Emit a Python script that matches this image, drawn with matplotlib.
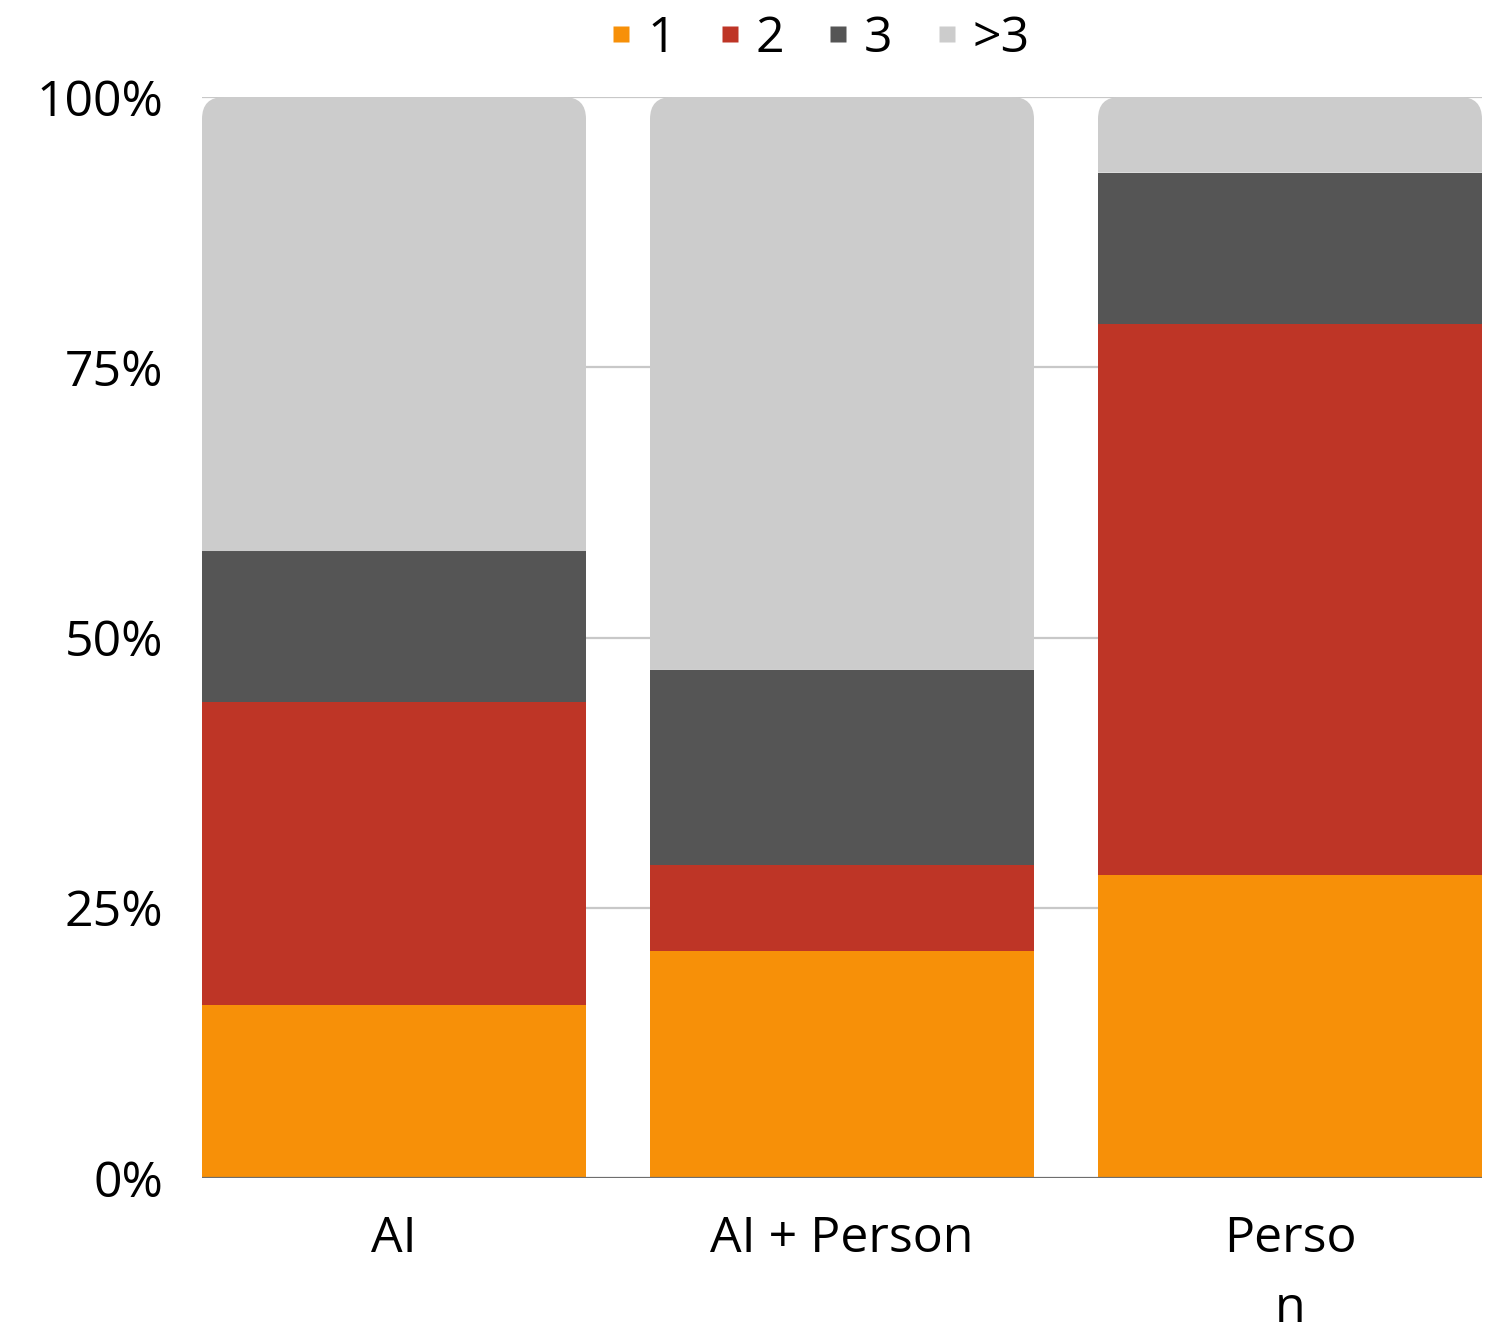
import matplotlib
matplotlib.use("Agg")
import matplotlib.pyplot as plt
from matplotlib.path import Path
from matplotlib.patches import PathPatch
from matplotlib.lines import Line2D
import numpy as np

plt.rcParams['font.family'] = ['Open Sans', 'DejaVu Sans']

categories = ["AI", "AI + Person", "Perso\nn"]
series_names = ["1", "2", "3", ">3"]
values = {
    "1":  [16, 21, 28],
    "2":  [28, 8, 51],
    "3":  [14, 18, 14],
    ">3": [42, 53, 7],
}
colors = {"1": "#F79008", "2": "#BE3526", "3": "#555555", ">3": "#CCCCCC"}
ytick_vals = [0, 25, 50, 75, 100]
ytick_labels = ["0%", "25%", "50%", "75%", "100%"]

W, H = 1499, 1325
fig = plt.figure(figsize=(W / 100, H / 100), dpi=100)
ax = fig.add_axes([202 / W, 1 - 1178 / H, (1482 - 202) / W, (1178 - 97) / H])

x = np.arange(len(categories))
bar_w = 384 / 448
ax.set_xlim(-0.5 * bar_w, len(categories) - 1 + 0.5 * bar_w)
ax.set_ylim(0, 100)

# corner radius for the rounded top segment, in data units
radius_px = 22
ax_w_px = 1482 - 202
ax_h_px = 1178 - 97
rx = radius_px * (ax.get_xlim()[1] - ax.get_xlim()[0]) / ax_w_px
ry = radius_px * (ax.get_ylim()[1] - ax.get_ylim()[0]) / ax_h_px


def rounded_top(x0, y0, w, h):
    x1, y1 = x0 + w, y0 + h
    verts = [
        (x0, y0), (x1, y0), (x1, y1 - ry),
        (x1, y1), (x1 - rx, y1),
        (x0 + rx, y1),
        (x0, y1), (x0, y1 - ry),
        (x0, y0),
    ]
    codes = [
        Path.MOVETO, Path.LINETO, Path.LINETO,
        Path.CURVE3, Path.CURVE3,
        Path.LINETO,
        Path.CURVE3, Path.CURVE3,
        Path.CLOSEPOLY,
    ]
    return Path(verts, codes)


bottom = np.zeros(len(categories))
for name in series_names:
    vals = np.array(values[name], dtype=float)
    if name == series_names[-1]:
        for xi, b, v in zip(x, bottom, vals):
            ax.add_patch(PathPatch(rounded_top(xi - bar_w / 2, b, bar_w, v),
                                   facecolor=colors[name], edgecolor="none",
                                   zorder=2))
    else:
        ax.bar(x, vals, bottom=bottom, width=bar_w, color=colors[name],
               edgecolor="none", zorder=2)
    bottom += vals

# grid and axes styling
for yv in ytick_vals[1:]:
    ax.axhline(yv, color="#C8C8C8", linewidth=1.6, zorder=1)
ax.axhline(0, color="#6E6E6E", linewidth=1.6, zorder=3)
for s in ax.spines.values():
    s.set_visible(False)

ax.set_yticks(ytick_vals)
ax.set_yticklabels(ytick_labels, fontsize=36)
ax.set_xticks(x)
ax.set_xticklabels(categories, fontsize=36, linespacing=1.55)
ax.tick_params(axis="y", length=0, pad=28)
ax.tick_params(axis="x", length=0, pad=26)

handles = [Line2D([], [], marker="s", linestyle="none", markersize=11.5,
                  markerfacecolor=colors[n], markeredgecolor="none")
           for n in series_names]
fig.legend(handles, series_names, loc="center", bbox_to_anchor=(818 / W, 1 - 39 / H),
           ncol=4, frameon=False, fontsize=36, handlelength=0.6,
           handletextpad=0.22, columnspacing=0.78, borderaxespad=0)

fig.savefig("out.png", dpi=100)
